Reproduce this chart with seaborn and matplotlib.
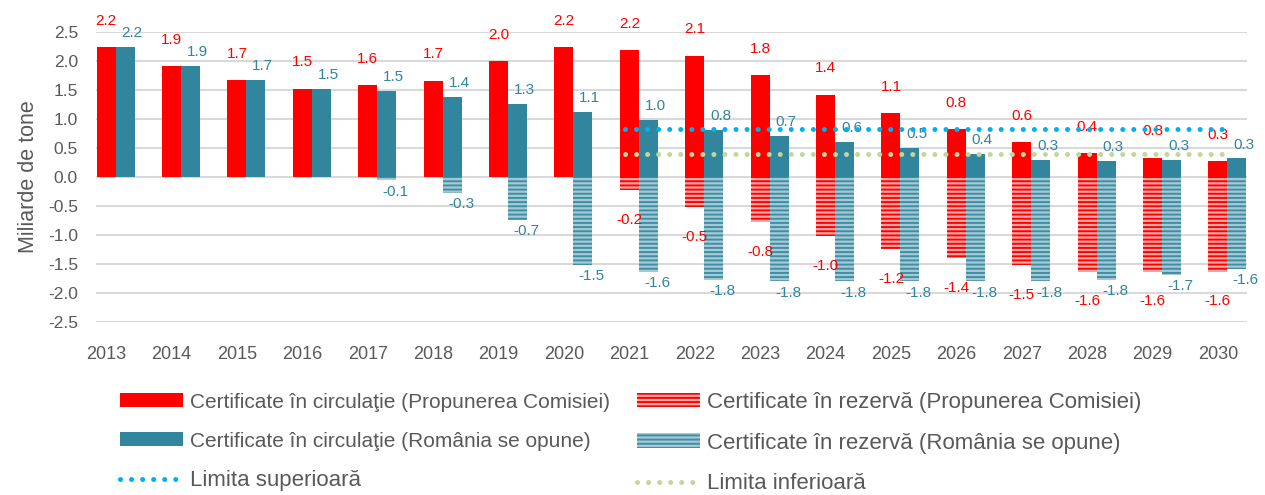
import matplotlib
matplotlib.use('Agg')
import matplotlib.pyplot as plt
import matplotlib.patches as mpatches
from matplotlib.lines import Line2D
import numpy as np
import pandas as pd
import seaborn as sns

# date (miliarde de tone)
years = [str(y) for y in range(2013, 2031)]
circ_comisie = [2.24, 1.91, 1.67, 1.52, 1.58, 1.66, 2.00, 2.24, 2.19, 2.09,
                1.76, 1.42, 1.10, 0.82, 0.60, 0.41, 0.33, 0.27]
circ_romania = [2.24, 1.91, 1.67, 1.52, 1.49, 1.38, 1.26, 1.12, 0.98, 0.81,
                0.70, 0.61, 0.50, 0.39, 0.29, 0.27, 0.29, 0.32]
rez_comisie = [0, 0, 0, 0, 0, 0, 0, 0, -0.22, -0.52,
               -0.78, -1.02, -1.24, -1.40, -1.52, -1.63, -1.63, -1.63]
rez_romania = [0, 0, 0, 0, -0.06, -0.27, -0.74, -1.52, -1.63, -1.78,
               -1.80, -1.80, -1.80, -1.80, -1.80, -1.78, -1.69, -1.58]
limita_sup = 0.83
limita_inf = 0.40
limita_ani = ['2021', '2030']

series = ['Propunerea Comisiei', 'România se opune']
y_ticks = [-2.5, -2.0, -1.5, -1.0, -0.5, 0.0, 0.5, 1.0, 1.5, 2.0, 2.5]

RED = '#FF0000'
TEAL = '#31859C'
PINK = '#FFA8A8'
LTEAL = '#A6CAD5'
HTEAL = '#3F8EA4'
BLUE = '#00B0F0'
GREEN = '#C3D69B'
GRAY = '#595959'

plt.rcParams['font.family'] = ['Liberation Sans', 'DejaVu Sans']
plt.rcParams['hatch.linewidth'] = 1.4
HATCH = '----'

df_circ = pd.DataFrame({'an': years * 2, 'val': circ_comisie + circ_romania,
                        'serie': [series[0]] * 18 + [series[1]] * 18})
df_rez = pd.DataFrame({'an': years * 2, 'val': rez_comisie + rez_romania,
                       'serie': [series[0]] * 18 + [series[1]] * 18})

fig = plt.figure(figsize=(12.65, 4.95), dpi=100)
ax = fig.add_axes([0.0759, 0.3495, 0.9099, 0.5859])

sns.barplot(data=df_circ, x='an', y='val', hue='serie', palette=[RED, TEAL],
            width=0.58, gap=0, dodge=True, saturation=1, errorbar=None,
            legend=False, linewidth=0, zorder=2, ax=ax)
sns.barplot(data=df_rez, x='an', y='val', hue='serie', palette=[PINK, LTEAL],
            width=0.58, gap=0, dodge=True, saturation=1, errorbar=None,
            legend=False, linewidth=0, zorder=2, ax=ax)

# hasura orizontala pentru certificatele din rezerva
for cont, col in zip(ax.containers[2:], [RED, HTEAL]):
    for bar in cont:
        bar.set_hatch(HATCH)
        bar.set_edgecolor(col)
        bar.set_linewidth(0)

# etichete de valoare
offsets = [(0, 19, RED), (5, 10, TEAL), (0, -21.5, RED), (6.5, -8, TEAL)]
for cont, (dx, dy, col) in zip(ax.containers, offsets):
    for bar in cont:
        h = bar.get_height()
        if h == 0:
            continue
        ax.annotate(f'{h:.1f}', (bar.get_x() + bar.get_width() / 2, h),
                    xytext=(dx, dy), textcoords='offset points',
                    ha='center', va='center', color=col, fontsize=11,
                    zorder=3)

# limitele
i0, i1 = years.index(limita_ani[0]), years.index(limita_ani[1])
ax.hlines(limita_sup, i0 - 0.21, i1 + 0.04, colors=BLUE, linewidth=3.6,
          linestyles=(0, (0.01, 2.2)), capstyle='round', zorder=4)
ax.hlines(limita_inf, i0 - 0.21, i1 + 0.04, colors=GREEN, linewidth=3.6,
          linestyles=(0, (0.01, 2.2)), capstyle='round', zorder=4)

ax.set_xlim(-0.3, 17.3)
ax.set_ylim(-2.5, 2.5)
ax.set_yticks(y_ticks)
ax.set_yticklabels([f'{v:.1f}' for v in y_ticks])
red_centers = [b.get_x() + b.get_width() / 2 for b in ax.containers[0]]
ax.set_xticks(red_centers)
ax.set_xticklabels(years)
ax.tick_params(axis='both', length=0, labelsize=12.5, labelcolor=GRAY)
ax.tick_params(axis='x', pad=17, labelsize=13)
ax.tick_params(axis='y', pad=13)
ax.yaxis.grid(True, color='#D9D9D9', linewidth=1.5, zorder=0)
ax.set_axisbelow(True)
for s in ax.spines.values():
    s.set_visible(False)
ax.set_xlabel('')
ax.set_ylabel('Miliarde de tone', fontsize=15.5, color=GRAY, labelpad=6)

handles = [
    mpatches.Patch(facecolor=RED, linewidth=0),
    mpatches.Patch(facecolor=TEAL, linewidth=0),
    Line2D([], [], color=BLUE, linewidth=3.6, linestyle=(0, (0.01, 2.2)),
           dash_capstyle='round'),
    mpatches.Patch(facecolor=PINK, edgecolor=RED, hatch=HATCH, linewidth=0),
    mpatches.Patch(facecolor=LTEAL, edgecolor=HTEAL, hatch=HATCH, linewidth=0),
    Line2D([], [], color=GREEN, linewidth=3.6, linestyle=(0, (0.01, 2.2)),
           dash_capstyle='round'),
]
labels = [
    'Certificate în circulaţie (Propunerea Comisiei)',
    'Certificate în circulaţie (România se opune)',
    'Limita superioară',
    'Certificate în rezervă (Propunerea Comisiei)',
    'Certificate în rezervă (România se opune)',
    'Limita inferioară',
]
leg = fig.legend(handles, labels, ncol=2, loc='upper left',
                 bbox_to_anchor=(120 / 1265, 1 - 392 / 495), frameon=False,
                 fontsize=16, handlelength=2.85, handleheight=0.63,
                 handletextpad=0.3, labelspacing=0.88, columnspacing=1.2,
                 borderpad=0, borderaxespad=0)
for i, t in enumerate(leg.get_texts()):
    t.set_color(GRAY)
    if i in (0, 1):
        t.set_fontsize(15)

fig.savefig('out.png', dpi=100)
